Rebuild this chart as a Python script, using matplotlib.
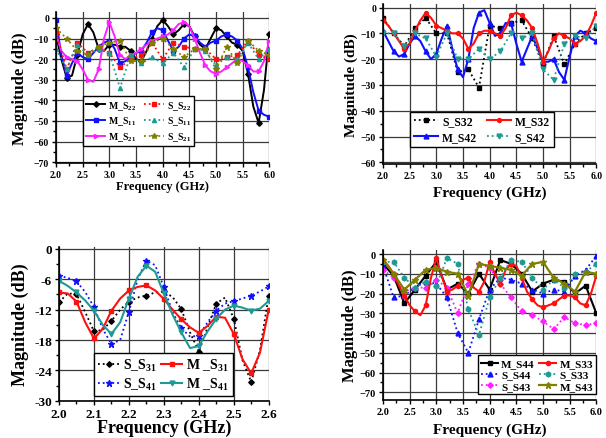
import numpy as np
import matplotlib
matplotlib.use("Agg")
import matplotlib.pyplot as plt
from matplotlib.ticker import MultipleLocator, FormatStrFormatter

plt.rcParams['font.family'] = ['Liberation Serif', 'DejaVu Serif']
plt.rcParams['font.weight'] = 'bold'
plt.rcParams['mathtext.fontset'] = 'custom'
plt.rcParams['mathtext.rm'] = 'Liberation Serif:bold'
plt.rcParams['mathtext.default'] = 'rm'

# frequency grids (GHz)
f_fine = np.round(np.arange(2.0, 6.001, 0.1), 2)
f_coarse = np.round(np.arange(2.0, 6.001, 0.2), 2)
f_band = np.round(np.arange(2.0, 2.601, 0.025), 3)

# panel 1 : S11 / S22 / S21
m_s22 = [-8, -20, -29, -28, -18, -8, -3, -7, -15, -16,
         -13, -13, -14, -14, -16, -20, -21, -16, -10, -4,
         -1, -4, -8, -6, -3, -4, -9, -13, -15, -10,
         -5, -6, -9, -12, -13, -16, -27, -43, -51, -35, -8]
m_s11 = [-1, -18, -28, -22, -17, -19, -20, -17, -14, -12,
         -11, -15, -22, -21, -19, -17, -16, -12, -7, -5,
         -6, -11, -16, -14, -10, -8, -9, -12, -14, -12,
         -11, -9, -8, -9, -11, -15, -24, -36, -45, -47, -48]
m_s21 = [-8, -16, -19, -20, -21, -25, -30, -31, -25, -10,
         -2, -9, -18, -20, -18, -17, -15, -13, -11, -10,
         -9, -8, -6, -3, -2, -4, -10, -17, -23, -26,
         -27, -26, -24, -22, -20, -21, -23, -26, -26, -21, -11]
s_s22 = [-7, -25, -12, -17, -14, -17, -24, -20, -18, -12, -20,
         -12, -14, -15, -15, -20, -19, -18, -11, -18, -20]
s_s11 = [-15, -25, -13, -18, -15, -17, -34, -18, -22, -19, -22,
         -17, -24, -15, -16, -23, -19, -20, -12, -20, -15]
s_s21 = [-5, -10, -16, -18, -14, -12, -11, -21, -21, -12, -10,
         -15, -19, -15, -15, -25, -14, -22, -11, -16, -18]

# panel 2 : S32 / S42
m_s32 = [-5, -7, -10, -13, -16, -14, -9, -5, -2, -4,
         -7, -8, -9, -10, -10, -12, -16, -14, -10, -9,
         -9, -10, -11, -8, -3, -2, -3, -5, -8, -14,
         -21, -17, -12, -10, -11, -12, -14, -13, -11, -7, -2]
m_s42 = [-9, -13, -17, -19, -18, -14, -11, -13, -17, -20,
         -18, -12, -7, -16, -24, -27, -20, -8, -2, -1,
         -6, -11, -10, -6, -6, -14, -21, -16, -11, -16,
         -21, -21, -20, -25, -28, -19, -11, -9, -10, -12, -13]
s_s32 = [-4, -10, -15, -8, -4, -10, -10, -25, -24, -31, -7,
         -8, -6, -5, -12, -22, -11, -22, -14, -10, -8]
s_s42 = [-10, -10, -15, -10, -12, -19, -10, -20, -20, -16, -20,
         -17, -10, -12, -10, -24, -28, -14, -11, -12, -7]

# panel 3 : S31 / S41 (2.0 - 2.6 GHz)
s_s31 = [-10.5, -8.8, -8.9, -12.5, -16.3, -16.0, -14.2, -12.0, -10.4, -9.6,
         -9.2, -8.6, -8.4, -9.5, -11.9, -16.5, -20.3, -15.5, -10.8, -9.6,
         -13.8, -22.0, -26.3, -20.0, -9.2]
m_s31 = [-8.6, -8.8, -10.4, -14.5, -17.7, -15.8, -12.2, -9.8, -8.2, -7.5,
         -7.2, -8.2, -9.9, -12.0, -13.9, -15.5, -16.6, -15.2, -13.4, -13.6,
         -16.8, -21.8, -24.6, -20.5, -12.0]
s_s41 = [-5.3, -5.7, -6.4, -8.5, -11.5, -15.8, -18.8, -18.0, -12.4, -6.0,
         -2.3, -3.2, -7.5, -12.5, -15.7, -17.3, -17.2, -14.5, -12.2, -10.8,
         -10.3, -9.8, -9.2, -8.4, -7.4]
m_s41 = [-6.3, -7.3, -8.6, -10.2, -12.2, -15.0, -16.8, -14.5, -9.8, -5.5,
         -3.3, -4.5, -8.8, -13.0, -16.5, -19.6, -19.2, -16.3, -13.8, -12.0,
         -11.2, -11.6, -12.2, -11.8, -10.3]

# panel 4 : S33 / S44 / S43
m_s44 = [-5, -11, -25, -18, -11, -4, -18, -15, -20, -10, -18,
         -3, -5, -10, -19, -15, -13, -14, -20, -16, -30]
m_s33 = [-3, -6, -10, -16, -21, -26, -29, -31, -26, -12,
         -2, -11, -19, -18, -16, -13, -12, -17, -19, -14,
         -4, -10, -15, -8, -5, -6, -12, -19, -23, -26,
         -27, -26, -25, -23, -21, -21, -22, -25, -26, -20, -11]
s_s44 = [-6, -22, -21, -17, -14, -15, -22, -40, -50, -33, -18,
         -12, -13, -15, -18, -20, -18, -19, -11, -8, -1]
s_s33 = [-4, -4, -12, -17, -14, -16, -2, -5, -28, -41, -22,
         -12, -3, -4, -12, -18, -13, -17, -10, -9, -5]
s_s43 = [-8, -12, -19, -17, -17, -13, -17, -30, -15, -5, -7,
         -15, -22, -29, -31, -34, -38, -32, -35, -36, -35]
m_s43 = [-3, -10, -18, -13, -8, -7, -9, -10, -21, -5, -6,
         -7, -8, -11, -5, -4, -12, -15, -19, -9, -10]

BLUE = "#1010ff"
TEAL = "#1f9a94"
OLIVE = "#7f7f00"
MAGENTA = "#ff20ff"
RED = "#ff1010"


def style_axes(ax, xlim, ylim, xstep, ystep, yminor, tick_size, ylab_size, xlab_size,
               ylab_x, xlab_y):
    ax.set_xlim(*xlim)
    ax.set_ylim(*ylim)
    ax.xaxis.set_major_locator(MultipleLocator(xstep))
    ax.yaxis.set_major_locator(MultipleLocator(ystep))
    ax.yaxis.set_minor_locator(MultipleLocator(yminor))
    ax.xaxis.set_minor_locator(MultipleLocator(xstep / 2))
    ax.grid(True, which='major', color='#3a3a3a', lw=0.9)
    for s in ['top', 'right']:
        ax.spines[s].set_visible(False)
    for s in ['left', 'bottom']:
        ax.spines[s].set_linewidth(1.2)
    ax.tick_params(which='both', direction='out', labelsize=tick_size, width=1, pad=2)
    ax.tick_params(which='major', length=3)
    ax.tick_params(which='minor', length=2)
    ax.set_ylabel("Magnitude (dB)", fontsize=ylab_size, fontweight='bold', va='center')
    ax.set_xlabel("Frequency (GHz)", fontsize=xlab_size, fontweight='bold', va='center')
    ax.yaxis.set_label_coords(ylab_x, 0.5)
    ax.xaxis.set_label_coords(0.5, xlab_y)


def add_legend(ax, anchor, where, size, hlen, lspace, cspace=0.4):
    leg = ax.legend(ncol=2, loc=where, bbox_to_anchor=anchor, borderaxespad=0,
                    fontsize=size, frameon=True, fancybox=False, edgecolor='black',
                    framealpha=1, handlelength=hlen, borderpad=0.3, labelspacing=lspace,
                    columnspacing=cspace, handletextpad=0.3)
    leg.get_frame().set_linewidth(1.0)


fig = plt.figure(figsize=(6.06, 4.39), dpi=100)

# ---- panel 1
ax1 = fig.add_axes([0.0924, 0.626, 0.352, 0.345])
ax1.plot(f_fine, m_s22, '-', color='black', lw=1.4, marker='D', ms=2.8, markevery=2, label="M_S$_{22}$")
ax1.plot(f_fine, m_s11, '-', color=BLUE, lw=1.4, marker='s', ms=3, markevery=2, label="M_S$_{11}$")
ax1.plot(f_fine, m_s21, '-', color=MAGENTA, lw=1.4, marker='>', ms=3, markevery=2, label="M_S$_{21}$")
ax1.plot(f_coarse, s_s22, ':', color=RED, lw=1.3, marker='s', ms=3, label="S_S$_{22}$")
ax1.plot(f_coarse, s_s11, ':', color=TEAL, lw=1.3, marker='^', ms=3, label="S_S$_{11}$")
ax1.plot(f_coarse, s_s21, ':', color=OLIVE, lw=1.3, marker='*', ms=4, label="S_S$_{21}$")
style_axes(ax1, (2.0, 6.0), (-70.5, 3), 0.5, 10, 5, 7, 12, 9, -0.17, -0.15)
add_legend(ax1, (0.127, 0.114), 'lower left', 7, 2.0, 0.3, 0.8)

# ---- panel 2
ax2 = fig.add_axes([0.632, 0.625, 0.352, 0.3626])
ax2.plot(f_coarse, s_s32, ':', color='black', lw=1.3, marker='s', ms=3, label="S_S32")
ax2.plot(f_fine, m_s42, '-', color=BLUE, lw=1.5, marker='^', ms=3.5, markevery=2, label="M_S42")
ax2.plot(f_fine, m_s32, '-', color=RED, lw=1.5, marker='o', ms=2.8, markevery=2, label="M_S32")
ax2.plot(f_coarse, s_s42, ':', color=TEAL, lw=1.3, marker='v', ms=3.5, label="S_S42")
style_axes(ax2, (2.0, 6.0), (-60.5, 1.2), 0.5, 10, 5, 7, 11, 11, -0.15, -0.177)
add_legend(ax2, (0.127, 0.104), 'lower left', 8.5, 2.1, 0.35, 0.8)

# ---- panel 3
ax3 = fig.add_axes([0.0974, 0.085, 0.346, 0.349])
ax3.plot(f_band, s_s31, ':', color='black', lw=1.3, marker='D', ms=2.8, markevery=2, label="S_S$_{31}$")
ax3.plot(f_band, s_s41, ':', color=BLUE, lw=1.3, marker='*', ms=4.5, markevery=2, label="S_S$_{41}$")
ax3.plot(f_band, m_s31, '-', color=RED, lw=1.5, marker='s', ms=3, markevery=2, label="M _S$_{31}$")
ax3.plot(f_band, m_s41, '-', color=TEAL, lw=1.5, marker='v', ms=3.5, markevery=2, label="M _S$_{41}$")
style_axes(ax3, (2.0, 2.6), (-30, 0.3), 0.1, 6, 3, 9.5, 13, 13, -0.183, -0.174)
ax3.xaxis.set_major_formatter(FormatStrFormatter('%.1f'))
ax3.yaxis.set_major_formatter(FormatStrFormatter('%d'))
add_legend(ax3, (0.167, 0.031), 'lower left', 10, 1.5, 0.2, 0.3)

# ---- panel 4
ax4 = fig.add_axes([0.632, 0.0861, 0.352, 0.342])
ax4.plot(f_coarse, m_s44, '-', color='black', lw=1.5, marker='s', ms=3, label="M_S44")
ax4.plot(f_coarse, s_s44, ':', color=BLUE, lw=1.3, marker='^', ms=3.5, label="S_S44")
ax4.plot(f_coarse, s_s43, ':', color=MAGENTA, lw=1.3, marker='D', ms=2.8, label="S_S43")
ax4.plot(f_fine, m_s33, '-', color=RED, lw=1.5, marker='o', ms=3, markevery=2, label="M_S33")
ax4.plot(f_coarse, s_s33, ':', color=TEAL, lw=1.3, marker='h', ms=3.5, label="S_S33")
ax4.plot(f_coarse, m_s43, '-', color=OLIVE, lw=1.6, marker='*', ms=4.5, label="M_S43")
style_axes(ax4, (2.0, 6.0), (-74, 2), 0.5, 10, 5, 7.5, 12, 11, -0.156, -0.196)
add_legend(ax4, (1.0, 0.041), 'lower right', 8, 1.5, 0.12, 0.4)

fig.savefig("out.png", dpi=100)
